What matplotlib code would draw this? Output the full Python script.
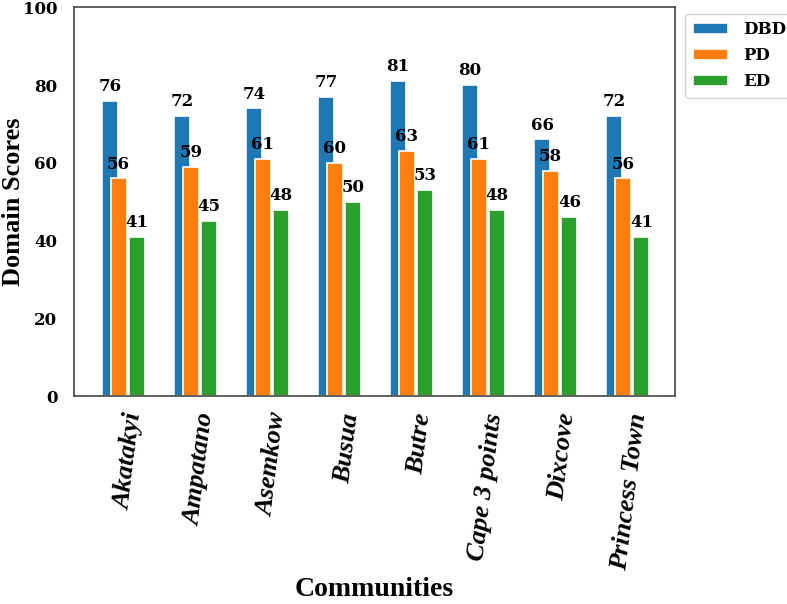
import numpy as np
from matplotlib import pyplot as plt

communities = ['Akatakyi', 'Ampatano', 'Asemkow', 'Busua', 'Butre',
               'Cape 3 points', 'Dixcove', 'Princess Town']
dbd = [76, 72, 74, 77, 81, 80, 66, 72]
pd_scores = [56, 59, 61, 60, 63, 61, 58, 56]
ed = [41, 45, 48, 50, 53, 48, 46, 41]

series = [('DBD', dbd, '#1f77b4', -0.19),
          ('PD', pd_scores, '#ff7f0e', -0.07),
          ('ED', ed, '#2ca02c', 0.19)]

num_font = ['DejaVu Serif']
txt_font = ['Liberation Serif', 'DejaVu Serif']
plt.rcParams['font.family'] = num_font
plt.rcParams['font.weight'] = 'bold'

fig = plt.figure(figsize=(7.87, 6.04), dpi=100)
ax = fig.add_axes([0.094, 0.344, 0.764, 0.644])

x = np.arange(len(communities))
width = 0.22

for name, vals, color, off in series:
    bars = ax.bar(x + off, vals, width, color=color, edgecolor='white',
                  linewidth=1.2, label=name)
    for b, v in zip(bars, vals):
        ax.text(b.get_x() + b.get_width() / 2, v + 1.5, str(v),
                ha='center', va='bottom', fontsize=12, fontweight='bold')

ax.set_xlim(-0.69, 7.66)
ax.set_ylim(0, 100)
ax.set_yticks([0, 20, 40, 60, 80, 100])
ax.tick_params(axis='y', labelsize=12, length=0, pad=12)
ax.tick_params(axis='x', length=0, pad=11)
ax.set_xticks(x)
ax.set_xticklabels(communities, rotation=83, ha='right', rotation_mode='anchor',
                   fontsize=19, fontstyle='italic', fontweight='bold',
                   family=txt_font)
for s in ax.spines.values():
    s.set_color('#444444')
    s.set_linewidth(1.2)

ax.set_ylabel('Domain Scores', fontsize=19, fontweight='bold', family=txt_font)
ax.yaxis.set_label_coords(-0.082, 0.5)
ax.set_xlabel('Communities', fontsize=20, fontweight='bold', family=txt_font)
ax.xaxis.set_label_coords(0.5, -0.465)

leg = ax.legend(loc='upper left', bbox_to_anchor=(1.003, 1.005), fontsize=12,
                handlelength=2.1, handleheight=0.6, handletextpad=0.9,
                labelspacing=0.55, frameon=True, borderpad=0.45)
leg.get_frame().set_edgecolor('#cccccc')

fig.savefig('out.png', dpi=100)
